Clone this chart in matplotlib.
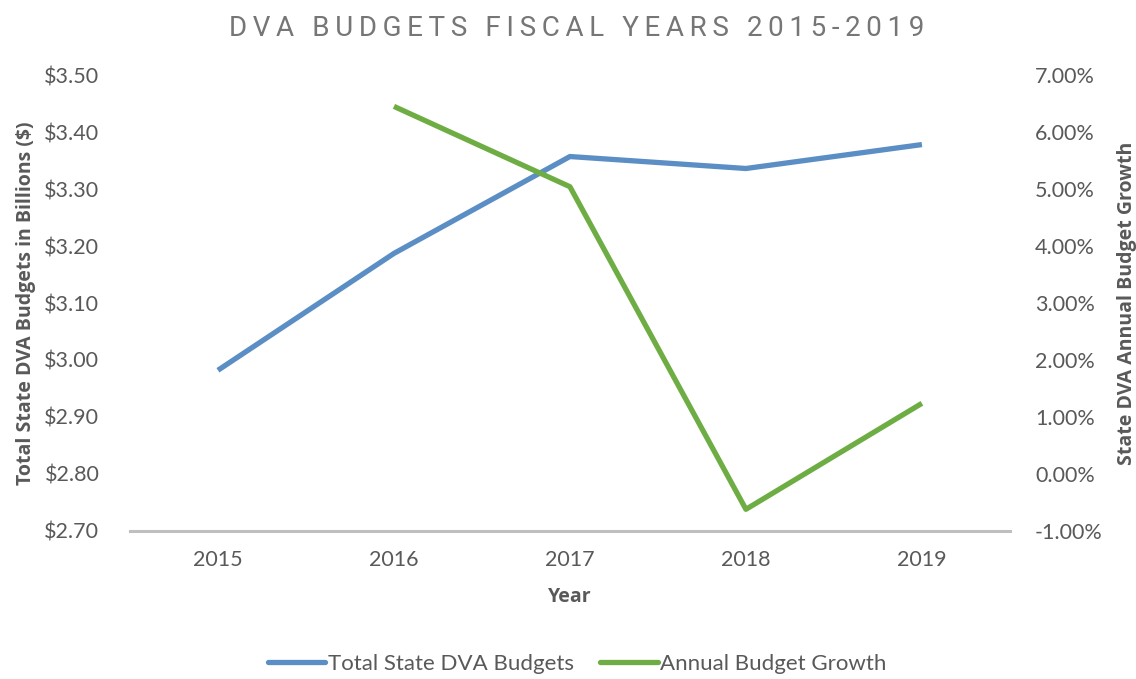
import matplotlib.pyplot as plt
from matplotlib.ticker import FuncFormatter

plt.rcParams["font.family"] = ["Lato", "DejaVu Sans"]

years = ["2015", "2016", "2017", "2018", "2019"]
budgets = [2.982, 3.187, 3.357, 3.336, 3.378]  # billions $
growth_years = ["2016", "2017", "2018", "2019"]
growth = [6.45, 5.04, -0.62, 1.24]  # percent

blue = "#5B8EC4"
green = "#6EAD44"
grey_text = "#595959"
label_font = ["Open Sans", "DejaVu Sans"]

fig = plt.figure(figsize=(11.36, 6.79), dpi=100)
ax = fig.add_axes([0.1144, 0.218, 0.7746, 0.6715])
ax2 = ax.twinx()

xb = [years.index(y) for y in years]
xg = [years.index(y) for y in growth_years]
lb, = ax.plot(xb, budgets, color=blue, lw=3.8, solid_capstyle="butt",
              label="Total State DVA Budgets")
lg, = ax2.plot(xg, growth, color=green, lw=3.8, solid_capstyle="butt",
               label="Annual Budget Growth")

ax.set_xlim(-0.5, 4.5)
ax.set_ylim(2.70, 3.50)
ax.set_yticks([2.70 + 0.1 * i for i in range(9)])
ax.yaxis.set_major_formatter(FuncFormatter(lambda v, p: f"${v:.2f}"))
ax2.set_ylim(-1, 7)
ax2.set_yticks(range(-1, 8))
ax2.yaxis.set_major_formatter(FuncFormatter(lambda v, p: f"{v:.2f}%"))
ax.set_xticks(range(len(years)))
ax.set_xticklabels(years)

for a in (ax, ax2):
    for s in a.spines.values():
        s.set_visible(False)
    a.tick_params(length=0, labelsize=15.5, labelcolor=grey_text)
ax.spines["bottom"].set_visible(True)
ax.spines["bottom"].set_color("#BFBFBF")
ax.spines["bottom"].set_linewidth(2.2)
ax.tick_params(axis="x", pad=14)
ax.tick_params(axis="y", pad=22)
ax2.tick_params(axis="y", pad=18)

ax.set_xlabel("Year", fontsize=14, fontweight="bold", family=label_font,
              color=grey_text, labelpad=12)
ax.set_ylabel("Total State DVA Budgets in Billions ($)", fontsize=14,
              fontweight="bold", family=label_font, color=grey_text, labelpad=6)
ax2.set_ylabel("State DVA Annual Budget Growth", fontsize=14,
               fontweight="bold", family=label_font, color=grey_text, labelpad=10)

title = "DVA BUDGETS FISCAL YEARS 2015-2019"
fig.text(0.508, 0.958, "\u2009".join(title), ha="center", va="center",
         fontsize=20, color="#767676",
         family=["Roboto", "DejaVu Sans"])

leg = fig.legend(handles=[lb, lg], loc="center", bbox_to_anchor=(0.508, 0.022),
                 ncol=2, frameon=False, fontsize=16, labelcolor=grey_text,
                 handlelength=2.6, handletextpad=0.1, columnspacing=1.2)
for line in leg.get_lines():
    line.set_solid_capstyle("round")

fig.savefig("out.png", dpi=100)
